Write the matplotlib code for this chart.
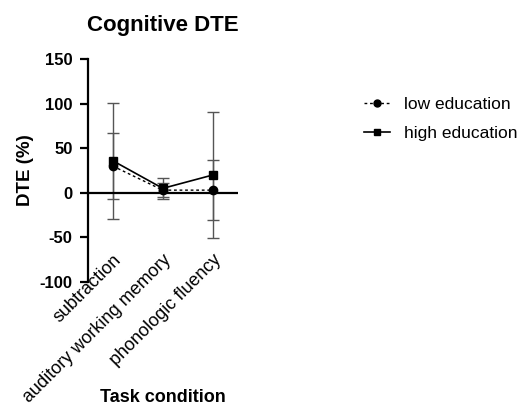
import matplotlib
matplotlib.use("Agg")
import numpy as np
import matplotlib.pyplot as plt
from matplotlib.lines import Line2D

plt.rcParams['font.family'] = ['Liberation Sans', 'DejaVu Sans']
plt.rcParams['axes.unicode_minus'] = False

# -----------------------
# Data
# -----------------------
conditions = ["subtraction", "auditory working memory", "phonologic fluency"]
low_mean = [30, 3, 3]
low_sd = [37, 8, 34]
high_mean = [36, 5, 20]
high_sd = [65, 12, 71]

# -----------------------
# Plot
# -----------------------
fig = plt.figure(figsize=(5.26, 4.08), dpi=100)
ax = fig.add_axes([0.167, 0.309, 0.285, 0.546])

x = np.arange(len(conditions))

ax.errorbar(x, low_mean, yerr=low_sd, fmt='o', ls=(0, (2, 2)), color='black',
            ecolor='#555555', elinewidth=1, capsize=4, capthick=1, markersize=6,
            lw=1)
ax.errorbar(x, high_mean, yerr=high_sd, fmt='s', ls='-', color='black',
            ecolor='#555555', elinewidth=1, capsize=4, capthick=1, markersize=6,
            lw=1.2)

ax.axhline(0, color='black', lw=1.6)
ax.set_xlim(-0.5, 2.5)
ax.set_ylim(-100, 150)
ax.set_yticks([-100, -50, 0, 50, 100, 150])

for s in ['top', 'right', 'bottom']:
    ax.spines[s].set_visible(False)
ax.spines['left'].set_linewidth(1.6)
ax.tick_params(axis='y', width=1.6, length=6, labelsize=12, pad=5)
for lbl in ax.get_yticklabels():
    lbl.set_fontweight('bold')

ax.set_xticks(x)
ax.set_xticklabels(conditions, rotation=45, ha='right', rotation_mode='anchor', fontsize=13)
ax.tick_params(axis='x', length=0, pad=-22)

ax.set_title("Cognitive DTE", fontsize=16, fontweight='bold', pad=20)
ax.set_ylabel("DTE (%)", fontsize=13.5, fontweight='bold')
ax.yaxis.set_label_coords(-0.36, 0.5)
fig.text(163 / 526, 1 - 397 / 408, "Task condition", fontsize=13, fontweight='bold',
         ha='center', va='center')

handles = [
    Line2D([], [], color='black', ls=(0, (2, 2)), lw=1, marker='o', markersize=5),
    Line2D([], [], color='black', ls='-', lw=1.2, marker='s', markersize=5),
]
fig.legend(handles, ['low education', 'high education'], loc='upper left',
           bbox_to_anchor=(0.662, 0.80), frameon=False, fontsize=12.5,
           handlelength=1.5, handletextpad=0.8, labelspacing=0.8)

fig.savefig("out.png", dpi=100)
